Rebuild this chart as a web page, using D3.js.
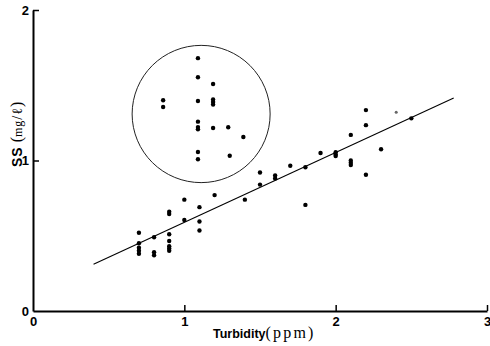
<!DOCTYPE html>
<html lang="en">
  <head>
    <meta charset="UTF-8" />
    <title>SS vs Turbidity</title>
    <script src="https://d3js.org/d3.v7.min.js"></script>
    <style>
      body {
        margin: 0;
        background: #fff;
      }
      svg {
        display: block;
        font-family: "Liberation Sans", Arial, sans-serif;
      }
    </style>
  </head>
  <body>
    <script>
      // turbidity (ppm) / SS (mg/l) readings along the regression band
      const turbidity = [
        0.7, 0.7, 0.7, 0.7, 0.7,
        0.8, 0.8, 0.8,
        0.9, 0.9, 0.9, 0.9, 0.9, 0.9, 0.9,
        1.0, 1.0,
        1.1, 1.1, 1.1,
        1.2, 1.4,
        1.5, 1.5, 1.6, 1.6, 1.7, 1.8, 1.8, 1.9,
        2.0, 2.0, 2.0,
        2.1, 2.1, 2.1, 2.1,
        2.2, 2.2, 2.2, 2.3, 2.5
      ];
      const ss = [
        0.52, 0.45, 0.42, 0.4, 0.38,
        0.49, 0.39, 0.37,
        0.66, 0.645, 0.51, 0.465, 0.43, 0.415, 0.4,
        0.74, 0.605,
        0.69, 0.595, 0.535,
        0.77, 0.74,
        0.92, 0.84, 0.9, 0.88, 0.965, 0.955, 0.705, 1.05,
        1.055, 1.04, 1.03,
        1.17, 1.0, 0.985, 0.97,
        1.335, 1.235, 0.905, 1.075, 1.28
      ];

      // the outlying group inside the circle
      const outTurbidity = [
        0.86, 0.86,
        1.09, 1.09, 1.09, 1.09, 1.09, 1.09, 1.09, 1.09,
        1.19, 1.19, 1.19, 1.19, 1.19,
        1.29, 1.3, 1.39
      ];
      const outSs = [
        1.4, 1.355,
        1.68, 1.553, 1.395, 1.258, 1.222, 1.207, 1.056, 1.008,
        1.508, 1.405, 1.389, 1.372, 1.216,
        1.221, 1.032, 1.156
      ];

      // faint point near the end of the line
      const faintPoint = [[2.4, 1.32]];

      // regression line end points and the ring around the outliers
      const fitLine = [[0.4, 0.31], [2.78, 1.415]];
      const ring = { cx: 1.111, cy: 1.309, r: 0.456 };

      const xTicks = [0, 1, 2, 3];
      const yTicks = [0, 1, 2];

      const width = 490;
      const height = 346;

      const svg = d3
        .select("body")
        .append("svg")
        .attr("width", width)
        .attr("height", height);

      const x = d3.scaleLinear().domain([0, 3]).range([33, 487]);
      const y = d3.scaleLinear().domain([0, 2]).range([311, 10]);

      // axes, ticks pointing inwards
      const xAxis = svg
        .append("g")
        .attr("transform", `translate(0,${y(0)})`)
        .call(
          d3.axisBottom(x)
            .tickValues(xTicks)
            .tickFormat(d3.format("d"))
            .tickSize(-6)
            .tickSizeOuter(0)
            .tickPadding(6)
        );

      const yAxis = svg
        .append("g")
        .attr("transform", `translate(${x(0)},0)`)
        .call(
          d3.axisLeft(y)
            .tickValues(yTicks)
            .tickFormat(d3.format("d"))
            .tickSize(-6)
            .tickSizeOuter(0)
            .tickPadding(4)
        );

      [xAxis, yAxis].forEach((g) => {
        g.select(".domain").attr("stroke", "#000").attr("stroke-width", 2);
        g.selectAll(".tick line").attr("stroke", "#000").attr("stroke-width", 1.5);
        g.selectAll(".tick text")
          .attr("fill", "#000")
          .style("font-size", "13px")
          .style("font-weight", "bold")
          .style("font-family", "'Liberation Sans', Arial, sans-serif");
      });
      // no tick mark at the origin
      xAxis.selectAll(".tick").filter((d) => d === 0).select("line").remove();
      yAxis.selectAll(".tick").filter((d) => d === 0).select("line").remove();

      // regression line
      svg
        .append("path")
        .datum(fitLine)
        .attr("fill", "none")
        .attr("stroke", "#000")
        .attr("stroke-width", 1.1)
        .attr("d", d3.line().x((d) => x(d[0])).y((d) => y(d[1])));

      // ring around the outliers
      svg
        .append("ellipse")
        .attr("cx", x(ring.cx))
        .attr("cy", y(ring.cy))
        .attr("rx", x(ring.cx + ring.r) - x(ring.cx))
        .attr("ry", y(ring.cy) - y(ring.cy + ring.r))
        .attr("fill", "none")
        .attr("stroke", "#222")
        .attr("stroke-width", 1);

      const pts = turbidity
        .map((t, i) => [t, ss[i]])
        .concat(outTurbidity.map((t, i) => [t, outSs[i]]));

      svg
        .append("g")
        .selectAll("circle")
        .data(pts)
        .join("circle")
        .attr("cx", (d) => x(d[0]))
        .attr("cy", (d) => y(d[1]))
        .attr("r", 2.2)
        .attr("fill", "#000");

      svg
        .append("g")
        .selectAll("circle")
        .data(faintPoint)
        .join("circle")
        .attr("cx", (d) => x(d[0]))
        .attr("cy", (d) => y(d[1]))
        .attr("r", 1.5)
        .attr("fill", "#666");

      // axis titles
      const xTitle = svg
        .append("text")
        .attr("x", 213)
        .attr("y", 338)
        .attr("fill", "#000");
      xTitle.append("tspan")
        .style("font-weight", "bold")
        .style("font-size", "12.5px")
        .text("Turbidity");
      xTitle.append("tspan")
        .style("font-family", "'Liberation Serif', serif")
        .style("font-size", "16px")
        .style("letter-spacing", "2.2px")
        .text("(ppm)");

      const yTitle = svg
        .append("text")
        .attr("transform", "translate(22,167) rotate(-90)")
        .attr("fill", "#000");
      yTitle.append("tspan")
        .style("font-weight", "bold")
        .style("font-size", "14px")
        .style("letter-spacing", "1px")
        .text("SS");
      yTitle.append("tspan")
        .style("font-family", "'Liberation Serif', serif")
        .style("font-size", "16px")
        .text(" (");
      yTitle.append("tspan")
        .style("font-family", "'Liberation Serif', serif")
        .style("font-size", "12px")
        .style("letter-spacing", "1px")
        .text("mg");
      yTitle.append("tspan")
        .style("font-family", "'Liberation Serif', serif")
        .style("font-size", "14px")
        .style("letter-spacing", "1px")
        .text("/ℓ");
      yTitle.append("tspan")
        .style("font-family", "'Liberation Serif', serif")
        .style("font-size", "16px")
        .text(")");
    </script>
  </body>
</html>
